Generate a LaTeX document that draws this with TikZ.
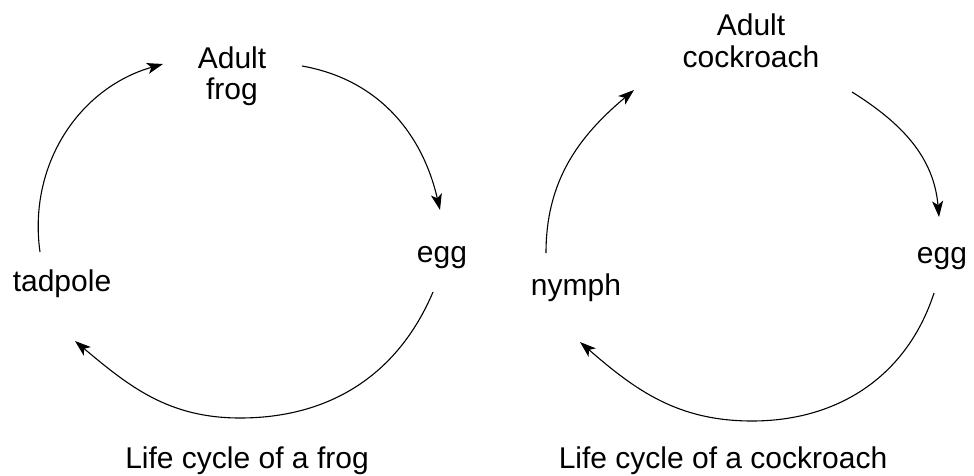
\documentclass[tikz,border=0pt]{standalone}
\usepackage{fontspec}
\setmainfont{Liberation Sans}
\usetikzlibrary{arrows.meta}
\tikzset{
  lbl/.style={inner sep=0pt, anchor=base, font=\fontsize{30}{32}\selectfont, text=black},
  two/.style={lbl, align=center},
  cyc/.style={line width=1.1pt, draw=black, -{Stealth[length=16pt,width=11pt,inset=4pt]}}
}
\begin{document}
\begin{tikzpicture}[x=1pt,y=1pt]
\useasboundingbox[fill=white] (0,0) rectangle (974,475);
% ---- frog ----
\node[two] (adultfrog) at (232,375) {Adult\\frog};
\node[lbl] (eggL) at (442,213) {egg};
\node[lbl] (tadpole) at (62,184) {tadpole};
\node[lbl] (titleL) at (247,7) {Life cycle of a frog};
\coordinate (f1s) at (40,223);
\coordinate (f1e) at (163,411);
\coordinate (f2s) at (302,409);
\coordinate (f2e) at (440,265);
\coordinate (f3s) at (433,183);
\coordinate (f3m) at (240,57);
\coordinate (f3e) at (75,134);
\draw[cyc] (f1s) to[out=98,in=196] (f1e);
\draw[cyc] (f2s) to[out=-10,in=103] (f2e);
\draw[cyc] (f3s) to[out=-113,in=0] (f3m) to[out=180,in=-40] (f3e);
% ---- cockroach ----
\node[two] (adultcr) at (751,407) {Adult\\cockroach};
\node[lbl] (eggR) at (942,212) {egg};
\node[lbl] (nymph) at (576,180) {nymph};
\node[lbl] (titleR) at (723,7) {Life cycle of a cockroach};
\coordinate (c1s) at (546,222);
\coordinate (c1e) at (634,385);
\coordinate (c2s) at (852,383);
\coordinate (c2e) at (939,258);
\coordinate (c3s) at (934,182);
\coordinate (c3m) at (752,54);
\coordinate (c3e) at (580,133);
\draw[cyc] (c1s) to[out=90,in=220] (c1e);
\draw[cyc] (c2s) to[out=-32,in=95] (c2e);
\draw[cyc] (c3s) to[out=-108,in=0] (c3m) to[out=180,in=-41] (c3e);
\end{tikzpicture}
\end{document}
